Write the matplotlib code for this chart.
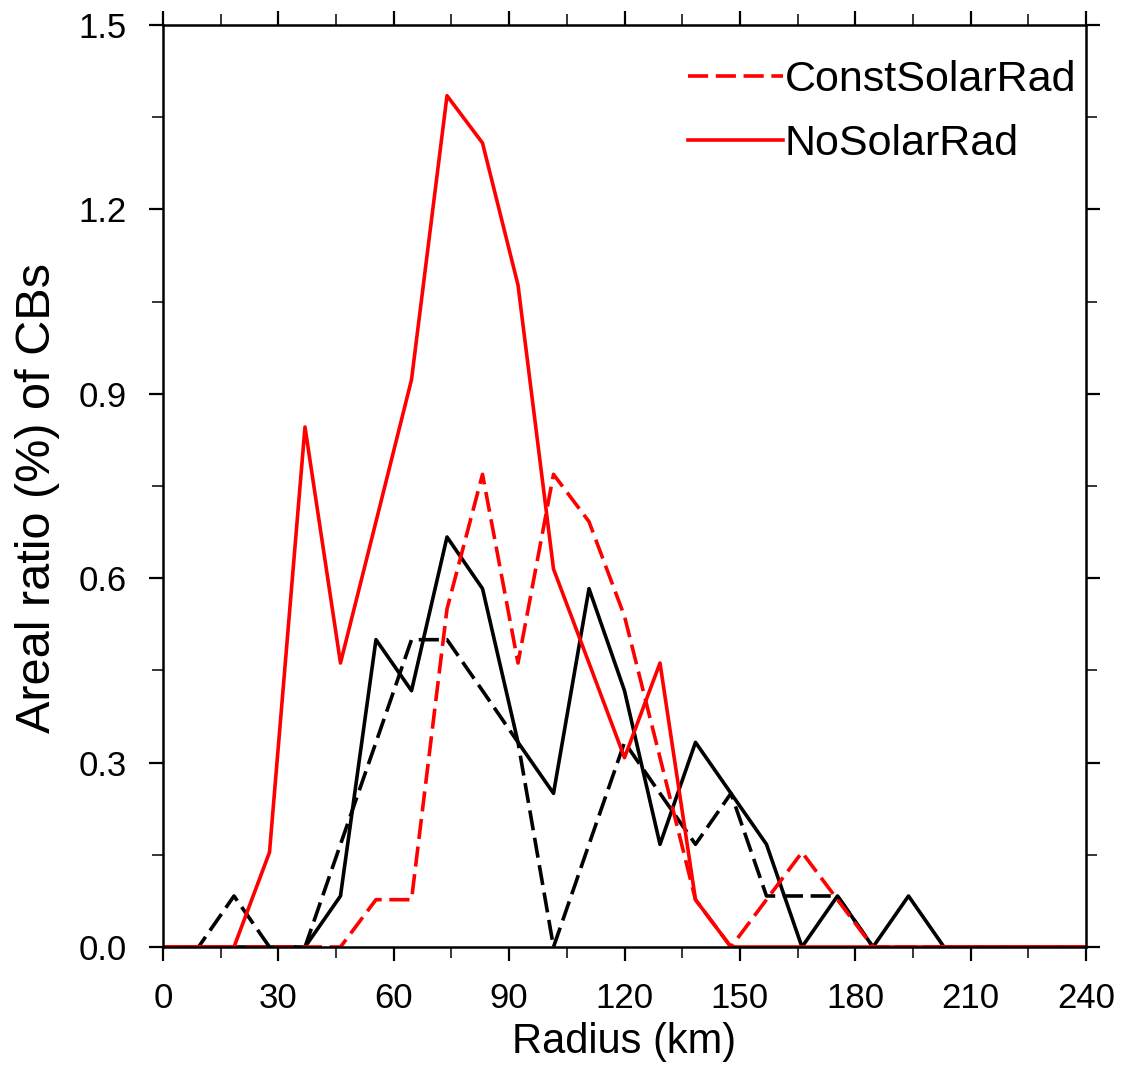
import matplotlib
matplotlib.use("Agg")
import matplotlib.pyplot as plt
from matplotlib.ticker import MultipleLocator, FormatStrFormatter

plt.rcParams['font.family'] = ['Liberation Sans', 'DejaVu Sans']
plt.rcParams['lines.scale_dashes'] = False

radius = [0, 9.23, 18.46, 27.69, 36.92, 46.15, 55.38, 64.62, 73.85, 83.08,
          92.31, 101.54, 110.77, 120.0, 129.23, 138.46, 147.69, 156.92, 166.15,
          175.38, 184.62, 193.85, 203.08, 212.31, 221.54, 230.77, 240.0]

no_solar = [0, 0, 0, 0.154, 0.846, 0.462, 0.692, 0.923, 1.385, 1.308,
            1.077, 0.615, 0.462, 0.308, 0.462, 0.077, 0, 0, 0,
            0, 0, 0, 0, 0, 0, 0, 0]

const_solar = [0, 0, 0, 0, 0, 0, 0.077, 0.077, 0.55, 0.769,
               0.462, 0.769, 0.692, 0.538, 0.308, 0.077, 0, 0.077, 0.154,
               0.077, 0, 0, 0, 0, 0, 0, 0]

black_solid = [0, 0, 0, 0, 0, 0.083, 0.5, 0.417, 0.667, 0.583,
               0.333, 0.25, 0.583, 0.417, 0.167, 0.333, 0.25, 0.167, 0,
               0.083, 0, 0.083, 0, 0, 0, 0, 0]

black_dashed = [0, 0, 0.083, 0, 0, 0.167, 0.333, 0.5, 0.5, 0.417,
                0.333, 0, 0.167, 0.333, 0.25, 0.167, 0.25, 0.083, 0.083,
                0.083, 0, 0, 0, 0, 0, 0, 0]

fig = plt.figure(figsize=(11.24, 10.84), dpi=100)
ax = fig.add_axes([163/1124, 1 - 947/1084, (1086-163)/1124, (947-25)/1084])

lw = 2.6
dash = (14.5, 5.5)
ax.plot(radius, black_dashed, color='black', lw=lw, dashes=dash)
ax.plot(radius, black_solid, color='black', lw=lw)
ax.plot(radius, const_solar, color='red', lw=lw, dashes=dash, label='ConstSolarRad')
ax.plot(radius, no_solar, color='red', lw=lw, label='NoSolarRad')

ax.set_xlim(0, 240)
ax.set_ylim(0, 1.5)
ax.xaxis.set_major_locator(MultipleLocator(30))
ax.xaxis.set_minor_locator(MultipleLocator(15))
ax.yaxis.set_major_locator(MultipleLocator(0.3))
ax.yaxis.set_minor_locator(MultipleLocator(0.15))
ax.yaxis.set_major_formatter(FormatStrFormatter('%.1f'))

for s in ax.spines.values():
    s.set_linewidth(1.8)
ax.tick_params(which='major', direction='out', length=10, width=1.6,
               top=True, right=True, labelsize=25)
ax.tick_params(which='minor', direction='out', length=8, width=1.1,
               top=True, right=True)
ax.tick_params(axis='y', which='major', pad=16)
ax.tick_params(axis='x', which='major', pad=15)

ax.set_xlabel('Radius (km)', fontsize=30, labelpad=5)
ax.set_ylabel('Areal ratio (%) of CBs', fontsize=35)
ax.yaxis.set_label_coords(-0.112, 0.487)

leg = ax.legend(loc='upper right', bbox_to_anchor=(1.013, 0.985), frameon=False,
                fontsize=31, handlelength=2.2, handletextpad=0.05,
                labelspacing=0.55, borderaxespad=0.3, borderpad=0.2)

fig.savefig('out.png', dpi=100)
